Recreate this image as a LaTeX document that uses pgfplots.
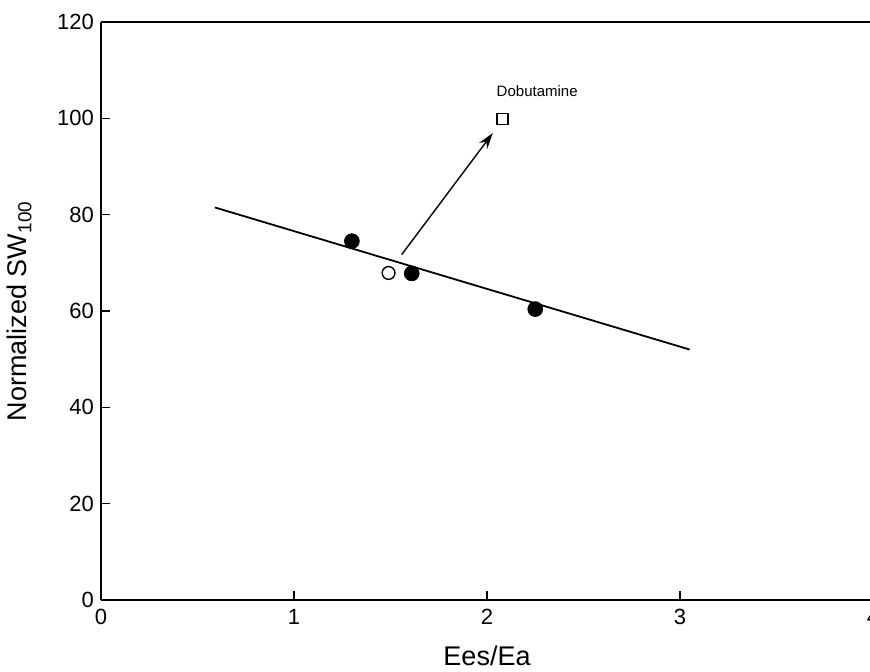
\documentclass[border=0pt]{standalone}
\usepackage{fontspec}
\setmainfont{Liberation Sans}
\usepackage{pgfplots}
\pgfplotsset{compat=1.18}
\usetikzlibrary{arrows.meta}

\begin{document}
\begin{tikzpicture}
\begin{axis}[
    anchor=origin, at={(0,0)},
    scale only axis, width=386pt, height=289pt,
    xmin=0, xmax=4, ymin=0, ymax=120,
    axis x line=box, axis y line*=left,
    axis line style={line width=1.4pt},
    xtick={0,1,2,3,4}, ytick={0,20,40,60,80,100,120},
    xtick pos=bottom, ytick pos=left,
    tick align=inside,
    major tick length=4.5pt,
    every tick/.style={black, line width=0.8pt},
    /pgf/number format/assume math mode=true,
    tick label style={font=\fontsize{11}{12}\selectfont},
    xticklabel style={yshift=-1pt},
    xlabel={Ees/Ea},
    ylabel={Normalized SW$_{\mathrm{100}}$},
    label style={font=\fontsize{13.5}{15}\selectfont},
    xlabel style={yshift=-4pt},
    ylabel style={yshift=6pt},
    clip=false,
]
\addplot[black, line width=0.9pt] coordinates {(0.59,81.5) (3.05,52.0)};
\addplot[only marks, mark=*, mark size=3.7pt, black] coordinates {
    (1.30,74.5) (1.61,67.8) (2.25,60.4)};
\addplot[only marks, mark=o, mark size=3.2pt, black, mark options={line width=0.7pt}] coordinates {(1.49,67.9)};
\addplot[only marks, mark=square, mark size=2.8pt, black, mark options={line width=0.7pt}] coordinates {(2.08,99.9)};
\draw[-{Stealth[length=8pt,width=5pt]}, line width=0.7pt] (axis cs:1.558,71.7) -- (axis cs:2.03,96.95);
\node[font=\fontsize{7.5}{8}\selectfont] at (axis cs:2.26,105.6) {Dobutamine};
\end{axis}
\pgfresetboundingbox
\path[use as bounding box] (-50.5pt,-35.5pt) rectangle (384.5pt,300pt);
\end{tikzpicture}
\end{document}
